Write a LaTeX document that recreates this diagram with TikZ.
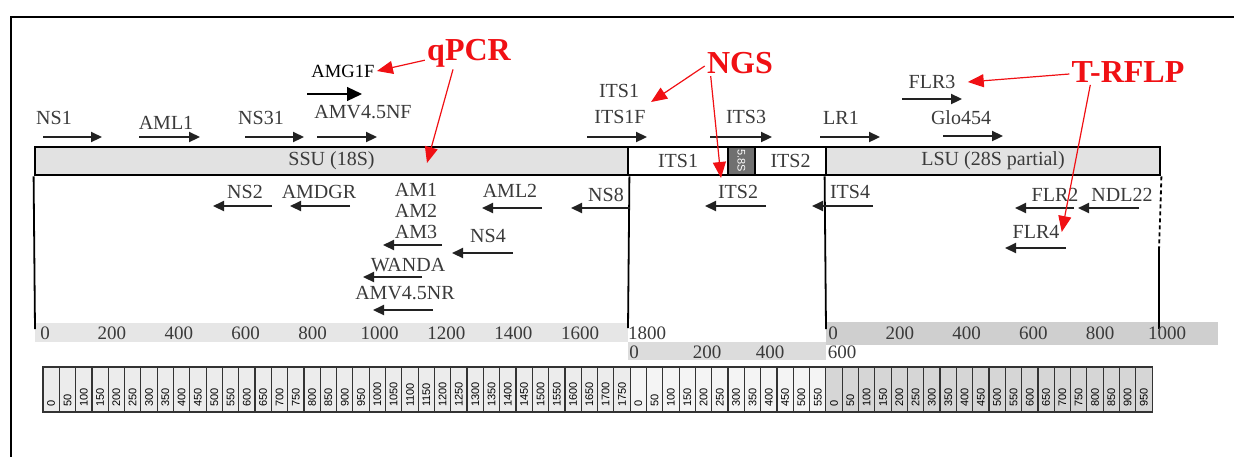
\documentclass[tikz,border=0pt]{standalone}
\usepackage{fontspec}
\setmainfont{Liberation Serif}
\newfontfamily\cellfont{Liberation Sans}
\usepackage{tikz}
\usetikzlibrary{arrows.meta,backgrounds}
\definecolor{labgray}{RGB}{58,58,58}
\definecolor{arrgray}{RGB}{34,34,34}
\definecolor{bargray}{RGB}{226,226,226}
\definecolor{fivegray}{RGB}{112,112,112}
\definecolor{bandssu}{RGB}{230,230,230}
\definecolor{bandits}{RGB}{220,220,220}
\definecolor{bandlsu}{RGB}{207,207,207}
\definecolor{cellssu}{RGB}{236,236,236}
\definecolor{cellits}{RGB}{244,244,244}
\definecolor{celllsu}{RGB}{214,214,214}
\definecolor{annored}{RGB}{240,16,20}

\begin{document}
\begin{tikzpicture}[
  x=0.5pt,y=-0.5pt,
  lab/.style={font=\fontsize{10}{12}\selectfont,text=labgray,inner sep=1pt},
  primer/.style={-{Triangle[length=5.5pt,width=5pt]},line width=1.1pt,draw=arrgray},
  seg/.style={draw=black,line width=1.4pt,minimum height=14pt,inner sep=0pt,
              font=\fontsize{10}{12}\selectfont,text=labgray},
  tag/.style={font=\fontsize{16}{18}\selectfont\bfseries,text=annored,inner sep=1pt},
  hint/.style={-{Triangle[length=8pt,width=6.5pt]},draw=annored,line width=0.6pt},
  scl/.style={font=\fontsize{9.5}{11}\selectfont,text=labgray,inner sep=0pt},
  cellbox/.style={draw=black!80,line width=0.6pt},
  cellnum/.style={font=\cellfont\fontsize{5.5}{6}\selectfont,rotate=90,anchor=west,inner sep=0pt}
]
\useasboundingbox (0,0) rectangle (1234,456);
\draw[line width=1.4pt] (11,470) -- (11,17) -- (1250,17);

% rDNA bar
\node[seg,fill=bargray,minimum width=296.5pt] (ssu) at (331.5,161) {SSU (18S)};
\node[seg,fill=white,minimum width=50pt] (itsa) at (678,161) {ITS1};
\node[seg,fill=fivegray,minimum width=13.5pt] (fives) at (741.5,161) {};
\node[rotate=-90,font=\cellfont\fontsize{5.5}{6}\selectfont,text=white,inner sep=0pt] (fivestext) at (fives) {5.8S};
\node[seg,fill=white,minimum width=35.5pt] (itsb) at (790.5,161) {ITS2};
\node[seg,fill=bargray,minimum width=167pt] (lsu) at (993,161) {LSU (28S partial)};

% scale bands
\begin{scope}[on background layer]
\fill[bandssu] (35,323) rectangle (628,342);
\fill[bandits] (628,342) rectangle (826,360);
\fill[bandlsu] (826,322) rectangle (1218,345);
\end{scope}
\draw[line width=0.9pt] (ssu.south west) -- (35,329);
\draw[line width=0.9pt] (ssu.south east) -- (628,328);
\draw[line width=0.9pt] (lsu.south west) -- (826,329);
\draw[line width=0.9pt,dashed,dash pattern=on 2pt off 1.5pt] (lsu.south east) -- (1159,250);
\draw[line width=0.9pt] (1159,250) -- (1159,329);

\foreach \v [count=\i from 0] in {0,200,400,600,800,1000,1200,1400,1600,1800}
  \node[scl] (ssc\i) at ({45+66.9*\i},333) {\v};
\node[scl] (isc0) at (634,352) {0};
\node[scl] (isc1) at (707,352) {200};
\node[scl] (isc2) at (770,352) {400};
\node[scl] (isc3) at (842,352) {600};
\foreach \v [count=\i from 0] in {0,200,400,600,800,1000}
  \node[scl] (lsc\i) at ({833+66.8*\i},333) {\v};

% forward primers
\node[lab] (nsone) at (54,118) {NS1};
\draw[primer] (43,137) -- (102,137);
\node[lab] (amlone) at (166,123) {AML1};
\draw[primer] (139,137) -- (200,137);
\node[lab] (nsthirtyone) at (261,118) {NS31};
\draw[primer] (245,137) -- (304,137);
\node[lab] (amvnf) at (363,112) {AMV4.5NF};
\draw[primer] (317,137) -- (377,137);
\node[font=\fontsize{9.3}{11}\selectfont,inner sep=1pt] (amgf) at (343,71) {AMG1F};
\draw[-{Triangle[length=7.5pt,width=7pt]},line width=0.6pt] (307,94) -- (362,94);
\node[lab] (itsone) at (619,91) {ITS1};
\node[lab] (itsonef) at (620,117) {ITS1F};
\draw[primer] (587,137) -- (647,137);
\node[lab] (itsthree) at (746,117) {ITS3};
\draw[primer] (710,137) -- (772,137);
\node[lab] (lrone) at (841,118) {LR1};
\draw[primer] (820,137) -- (880,137);
\node[lab] (flrthree) at (932,82) {FLR3};
\draw[primer] (902,99) -- (962,99);
\node[lab] (glo) at (961,118) {Glo454};
\draw[primer] (943,136) -- (1003,136);

% reverse primers
\node[lab] (nstwo) at (245,192) {NS2};
\draw[primer] (272,206) -- (213,206);
\node[lab] (amdgr) at (319,192) {AMDGR};
\draw[primer] (350,206) -- (290,206);
\node[lab] (amone) at (416,190) {AM1};
\node[lab] (amtwo) at (416,211) {AM2};
\node[lab] (amthree) at (416,232) {AM3};
\draw[primer] (442,245) -- (383,245);
\node[lab] (amltwo) at (510,191) {AML2};
\draw[primer] (542,208) -- (482,208);
\node[lab] (nseight) at (606,195) {NS8};
\draw[primer] (630,208) -- (571,208);
\node[lab] (nsfour) at (488,236) {NS4};
\draw[primer] (513,253) -- (452,253);
\node[lab] (wanda) at (408,265) {WANDA};
\draw[primer] (422,277) -- (363,277);
\node[lab] (amvnr) at (405,293) {AMV4.5NR};
\draw[primer] (433,310) -- (373,310);
\node[lab] (itstwo) at (738,192) {ITS2};
\draw[primer] (766,206) -- (705,206);
\node[lab] (itsfour) at (850,192) {ITS4};
\draw[primer] (873,206) -- (812,206);
\node[lab] (flrtwo) at (1055,195) {FLR2};
\draw[primer] (1074,208) -- (1015,208);
\node[lab] (ndl) at (1122,195) {NDL22};
\draw[primer] (1139,208) -- (1078,208);
\node[lab] (flrfour) at (1036,232) {FLR4};
\draw[primer] (1066,248) -- (1005,248);

% position strip
\foreach \k in {0,...,35} {
  \draw[cellbox,fill=cellssu] ({43+16.31*\k},367) rectangle ++(16.31,45);
  \pgfmathtruncatemacro\v{50*\k}
  \node[cellnum] (s\k) at ({43+16.31*(\k+0.5)},407) {\v};
}
\foreach \k in {0,...,11} {
  \draw[cellbox,fill=cellits] ({43+16.31*(\k+36)},367) rectangle ++(16.31,45);
  \pgfmathtruncatemacro\v{50*\k}
  \node[cellnum] (i\k) at ({43+16.31*(\k+36.5)},407) {\v};
}
\foreach \k in {0,...,19} {
  \draw[cellbox,fill=celllsu] ({43+16.31*(\k+48)},367) rectangle ++(16.31,45);
  \pgfmathtruncatemacro\v{50*\k}
  \node[cellnum] (l\k) at ({43+16.31*(\k+48.5)},407) {\v};
}

% method annotations
\node[tag] (qpcr) at (469,53) {qPCR};
\node[tag] (ngs) at (740,63) {NGS};
\node[tag] (trflp) at (1128,72) {T-RFLP};
\coordinate (ssuhit) at (427,163);
\coordinate (itshit) at (651,102);
\coordinate (ngshit) at (721,178);
\draw[hint] (qpcr.base west) -- (amgf.east);
\draw[hint] ([xshift=-8pt]qpcr.south) -- (ssuhit);
\draw[hint] ([yshift=-1.5pt]ngs.west) -- (itshit);
\draw[hint] ([xshift=3pt]ngs.south west) -- (ngshit);
\draw[hint] ([yshift=-1pt]trflp.west) -- ([xshift=5pt]flrthree.east);
\draw[hint] ([xshift=10.5pt]trflp.south west) -- (flrfour.east);
\end{tikzpicture}
\end{document}
